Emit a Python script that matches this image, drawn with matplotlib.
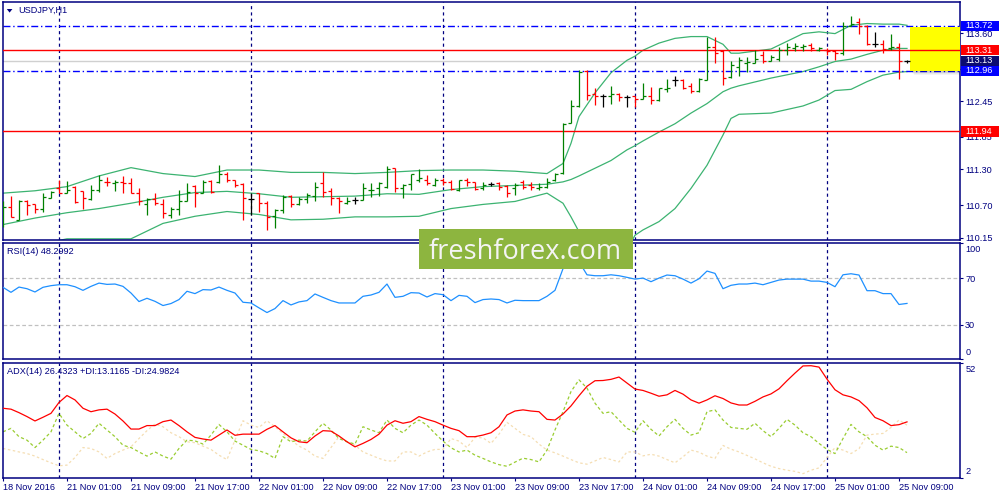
import matplotlib
matplotlib.use("Agg")
import matplotlib.pyplot as plt
from matplotlib.patches import Rectangle, Polygon
from matplotlib.transforms import blended_transform_factory as blend

plt.rcParams['font.family'] = ['Liberation Sans', 'DejaVu Sans']

# ---------------- data (USDJPY H1, 18 Nov 17:00 .. 25 Nov 10:00) ----------------
opens = [110.50, 110.67, 110.45, 110.77, 110.72, 110.63, 110.81, 110.98, 110.91, 111.01,
         110.94, 110.80, 110.96, 111.09, 111.07, 111.09, 111.07, 110.91, 110.72, 110.80,
         110.72, 110.53, 110.63, 110.76, 111.02, 110.91, 111.10, 111.08, 111.23, 111.12,
         111.05, 110.80, 110.90, 110.74, 110.51, 110.62, 110.85, 110.72, 110.80, 110.85,
         111.07, 110.94, 110.81, 110.73, 110.78, 110.79, 110.95, 110.98, 111.00, 111.32,
         110.98, 111.05, 111.12, 111.13, 111.04, 111.12, 111.09, 110.96, 111.12, 111.08,
         110.98, 111.05, 111.07, 111.02, 110.98, 111.08, 111.04, 110.98, 111.00, 111.12,
         111.24, 112.08, 112.37, 112.96, 112.57, 112.53, 112.53, 112.58, 112.52, 112.53,
         112.49, 112.53, 112.47, 112.66, 112.80, 112.81, 112.71, 112.63, 112.81, 113.37,
         113.29, 112.85, 113.03, 113.09, 113.10, 113.23, 113.13, 113.16, 113.31, 113.34,
         113.36, 113.40, 113.32, 113.32, 113.30, 113.27, 113.72, 113.79, 113.72, 113.41,
         113.41, 113.34, 113.37, 113.13]
highs = [110.76, 110.85, 110.78, 110.78, 110.72, 110.91, 110.94, 111.12, 111.11, 111.02,
         110.94, 111.04, 111.20, 111.17, 111.12, 111.19, 111.16, 110.98, 110.81, 110.90,
         110.80, 110.67, 110.95, 111.07, 111.04, 111.12, 111.12, 111.37, 111.26, 111.12,
         111.07, 110.90, 110.90, 110.76, 110.64, 110.87, 110.87, 110.84, 110.91, 111.09,
         111.25, 110.98, 110.84, 110.84, 110.83, 111.07, 111.07, 111.08, 111.35, 111.32,
         111.05, 111.23, 111.30, 111.21, 111.15, 111.15, 111.12, 111.13, 111.15, 111.09,
         111.09, 111.09, 111.08, 111.04, 111.07, 111.12, 111.08, 111.07, 111.15, 111.24,
         112.09, 112.47, 112.97, 112.97, 112.67, 112.58, 112.71, 112.59, 112.55, 112.54,
         112.75, 112.69, 112.68, 112.82, 112.87, 112.82, 112.76, 112.84, 113.54, 113.53,
         113.31, 113.12, 113.19, 113.19, 113.31, 113.29, 113.23, 113.37, 113.43, 113.43,
         113.41, 113.43, 113.37, 113.34, 113.32, 113.79, 113.89, 113.85, 113.73, 113.62,
         113.49, 113.59, 113.43, 113.14]
lows = [110.33, 110.50, 110.44, 110.53, 110.56, 110.59, 110.81, 110.90, 110.90, 110.74,
        110.63, 110.78, 110.92, 111.02, 110.94, 110.90, 110.90, 110.70, 110.53, 110.70,
        110.48, 110.48, 110.53, 110.76, 110.67, 110.90, 110.90, 111.07, 111.09, 111.01,
        110.45, 110.53, 110.59, 110.28, 110.32, 110.56, 110.67, 110.70, 110.73, 110.76,
        110.84, 110.70, 110.56, 110.72, 110.72, 110.78, 110.84, 110.85, 110.98, 110.92,
        110.81, 110.95, 111.09, 111.04, 111.02, 111.04, 110.96, 110.94, 111.02, 110.95,
        110.95, 111.02, 110.96, 110.84, 110.87, 110.97, 110.96, 110.96, 110.98, 111.11,
        111.23, 112.08, 112.36, 112.47, 112.39, 112.35, 112.41, 112.46, 112.36, 112.36,
        112.48, 112.41, 112.46, 112.61, 112.71, 112.65, 112.59, 112.61, 112.81, 113.09,
        112.72, 112.84, 112.87, 112.95, 113.09, 113.09, 113.12, 113.13, 113.23, 113.30,
        113.30, 113.29, 113.29, 113.23, 113.14, 113.23, 113.71, 113.59, 113.40, 113.37,
        113.26, 113.31, 112.82, 113.09]
closes = [110.67, 110.50, 110.77, 110.70, 110.63, 110.83, 110.92, 110.91, 110.95, 110.75,
          110.81, 110.95, 111.12, 111.08, 111.09, 111.07, 110.91, 110.76, 110.80, 110.73,
          110.56, 110.63, 110.76, 110.92, 110.90, 111.08, 110.92, 111.23, 111.12, 111.04,
          110.81, 110.80, 110.73, 110.50, 110.62, 110.84, 110.72, 110.80, 110.87, 111.01,
          110.92, 110.81, 110.76, 110.77, 110.78, 110.98, 110.96, 111.07, 111.30, 110.98,
          111.04, 111.22, 111.15, 111.07, 111.12, 111.09, 110.97, 111.12, 111.08, 110.97,
          111.04, 111.05, 111.01, 110.91, 111.04, 111.00, 111.00, 111.01, 111.09, 111.22,
          112.07, 112.37, 112.95, 112.55, 112.53, 112.53, 112.57, 112.52, 112.52, 112.48,
          112.53, 112.47, 112.67, 112.68, 112.80, 112.68, 112.63, 112.82, 113.37, 113.27,
          112.84, 113.06, 113.14, 113.11, 113.17, 113.13, 113.20, 113.32, 113.37, 113.38,
          113.38, 113.34, 113.34, 113.30, 113.26, 113.71, 113.76, 113.72, 113.41, 113.41,
          113.33, 113.37, 113.13, 113.13]

# Bollinger bands (20) read at knot bars
band_idx = [0, 4, 8, 12, 16, 20, 24, 28, 32, 36, 40,
            44, 48, 52, 56, 60, 64, 68,
            70, 71, 72, 74, 76, 78, 79, 80,
            82, 84, 86, 88, 90, 91, 92,
            96, 100, 102, 104, 106, 108, 110, 112, 113]
bb_upper = [110.90, 110.94, 111.01, 111.19, 111.33, 111.23, 111.18, 111.29, 111.29, 111.25, 111.25,
            111.23, 111.25, 111.28, 111.29, 111.29, 111.27, 111.23,
            111.40, 111.74, 112.19, 112.59, 112.93, 113.14, 113.21, 113.31,
            113.43, 113.51, 113.54, 113.54, 113.41, 113.26, 113.26,
            113.33, 113.59, 113.62, 113.59, 113.73, 113.76, 113.75, 113.75, 113.73]
bb_middle = [110.37, 110.48, 110.57, 110.64, 110.73, 110.83, 110.91, 110.93, 110.89, 110.83, 110.84,
             110.85, 110.89, 110.88, 110.96, 111.01, 111.03, 111.05,
             111.09, 111.13, 111.19, 111.32, 111.45, 111.63, 111.70, 111.78,
             111.93, 112.07, 112.25, 112.41, 112.61, 112.67, 112.71,
             112.84, 112.95, 113.03, 113.12, 113.16, 113.24, 113.31, 113.34, 113.34]
bb_lower = [109.90, 110.02, 110.13, 110.13, 110.13, 110.39, 110.51, 110.59, 110.54, 110.45, 110.46,
            110.50, 110.50, 110.51, 110.64, 110.71, 110.76, 110.90,
            110.73, 110.50, 110.25, 109.90, 109.75, 109.95, 110.19, 110.28,
            110.42, 110.64, 110.98, 111.37, 111.88, 112.16, 112.23,
            112.25, 112.37, 112.47, 112.63, 112.65, 112.78, 112.89, 112.94, 112.95]

rsi = [62.1, 57.8, 62.3, 60.9, 58.1, 62.1, 63.5, 64.3, 64.3, 62.6,
       59.5, 62.9, 65.7, 64.6, 64.9, 62.9, 57.2, 49.9, 52.7, 50.1,
       46.5, 48.2, 51.6, 58.7, 56.7, 60.1, 59.8, 62.3, 59.5, 57.2,
       49.3, 48.7, 44.5, 40.5, 43.9, 50.7, 47.0, 49.6, 50.7, 56.4,
       53.5, 50.7, 48.7, 48.7, 48.7, 54.4, 55.5, 57.8, 64.9, 53.5,
       54.4, 57.5, 57.2, 53.8, 56.7, 55.8, 50.7, 55.2, 54.4, 49.0,
       51.6, 52.1, 51.6, 48.7, 51.0, 50.7, 50.7, 50.7, 54.4, 59.5,
       78.0, 86.0, 84.0, 72.8, 72.0, 72.0, 72.8, 72.0, 70.6, 69.1,
       70.0, 66.9, 70.0, 72.6, 72.0, 69.1, 65.7, 69.4, 76.0, 74.0,
       60.9, 63.8, 64.9, 64.9, 65.7, 64.3, 66.3, 68.3, 69.1, 69.1,
       69.1, 67.4, 67.4, 66.3, 62.6, 72.8, 73.7, 72.6, 59.2, 59.2,
       56.7, 56.7, 47.4, 48.3]

adx = [32.3, 31.9, 30.4, 28.7, 26.8, 28.4, 30.1, 34.8, 37.8, 35.9,
       32.3, 30.8, 31.6, 31.9, 29.8, 26.8, 23.3, 23.3, 24.8, 24.8,
       26.5, 27.2, 24.8, 22.1, 19.7, 19.0, 18.5, 20.7, 22.9, 20.6,
       21.1, 21.1, 21.1, 23.2, 24.8, 22.1, 19.5, 17.8, 17.4, 20.3,
       22.6, 22.4, 20.3, 17.8, 15.6, 17.1, 18.8, 21.1, 25.0, 26.9,
       25.8, 26.5, 28.7, 27.5, 26.5, 25.0, 23.6, 22.6, 20.0, 20.0,
       20.7, 21.7, 24.3, 29.4, 31.1, 31.6, 31.1, 30.8, 27.5, 27.2,
       29.8, 33.3, 37.7, 41.8, 44.2, 44.3, 44.8, 45.8, 43.2, 40.6,
       40.0, 38.8, 37.5, 38.1, 40.0, 38.4, 35.9, 34.5, 35.9, 37.7,
       36.5, 34.6, 33.7, 33.7, 35.3, 37.2, 38.5, 40.7, 44.2, 47.5,
       50.6, 50.7, 50.1, 44.9, 40.3, 38.1, 37.2, 35.6, 32.5, 28.3,
       26.9, 24.8, 25.2, 26.4]
plus_di = [22.1, 23.6, 20.0, 18.5, 15.3, 18.5, 22.1, 30.1, 25.0, 22.1,
           19.2, 21.4, 25.8, 22.9, 20.0, 16.3, 15.3, 13.4, 11.6, 13.4,
           11.6, 10.3, 14.9, 18.5, 18.2, 16.8, 20.7, 25.3, 22.1, 18.1,
           16.3, 14.5, 13.9, 12.7, 10.6, 20.0, 17.8, 18.5, 18.1, 22.1,
           25.8, 22.9, 19.2, 17.8, 16.8, 24.3, 22.9, 21.7, 27.2, 23.6,
           21.7, 25.0, 27.2, 25.0, 21.4, 18.1, 15.2, 13.4, 14.2, 12.0,
           10.6, 9.1, 7.9, 7.2, 9.0, 10.7, 10.1, 9.1, 14.2, 22.9,
           30.8, 39.5, 44.6, 41.0, 34.5, 30.1, 30.8, 27.2, 23.6, 21.9,
           26.9, 23.2, 20.3, 24.3, 27.5, 23.6, 20.7, 21.7, 30.8, 31.6,
           27.2, 24.0, 23.6, 23.2, 25.8, 22.6, 20.0, 23.6, 27.5, 25.0,
           21.7, 20.0, 17.1, 14.5, 12.7, 19.2, 25.3, 22.1, 20.0, 16.3,
           14.2, 15.9, 15.3, 13.1]
minus_di = [14.9, 14.2, 13.4, 12.7, 11.6, 10.1, 8.7, 7.4, 7.7, 11.0,
            15.3, 14.9, 13.4, 10.6, 12.7, 14.2, 15.6, 19.2, 22.6, 25.5,
            24.3, 21.7, 20.0, 17.8, 17.4, 15.9, 14.5, 12.0, 10.1, 18.5,
            26.9, 25.0, 24.0, 26.9, 24.3, 21.4, 18.5, 15.9, 14.2, 11.6,
            10.6, 15.3, 20.0, 17.8, 16.3, 13.4, 12.0, 10.6, 9.5, 9.5,
            13.4, 13.4, 11.6, 13.4, 14.5, 14.5, 19.2, 18.1, 15.3, 19.7,
            19.5, 17.1, 21.1, 26.2, 23.6, 21.0, 20.0, 16.8, 14.2, 13.0,
            11.6, 10.1, 8.7, 8.1, 9.5, 11.0, 10.1, 9.1, 13.4, 13.4,
            11.7, 12.4, 11.6, 10.1, 8.7, 11.3, 14.2, 13.3, 11.6, 10.6,
            16.2, 14.6, 13.4, 11.9, 10.4, 8.7, 7.2, 6.2, 5.5, 5.0,
            4.0, 5.5, 6.5, 11.0, 15.3, 14.2, 12.7, 14.8, 20.7, 21.1,
            21.4, 24.0, 27.2, 25.0]

date_idx = [0, 8, 16, 24, 32, 40, 48, 56, 64, 72, 80, 88, 96, 104, 112]
date_labels = ["18 Nov 2016", "21 Nov 01:00", "21 Nov 09:00", "21 Nov 17:00",
               "22 Nov 01:00", "22 Nov 09:00", "22 Nov 17:00", "23 Nov 01:00",
               "23 Nov 09:00", "23 Nov 17:00", "24 Nov 01:00", "24 Nov 09:00",
               "24 Nov 17:00", "25 Nov 01:00", "25 Nov 09:00"]
day_sep_idx = [7, 31, 55, 79, 103]
price_ticks = [110.15, 110.70, 111.30, 111.85, 112.45, 113.00, 113.60]

blue_levels = [113.72, 112.96]
red_levels = [113.31, 111.94]
bid_price = 113.13
zone_start_idx = 113.4
zone_top, zone_bottom = 113.70, 112.96
box_prices = [113.72, 113.31, 113.13, 112.96, 111.94]
box_colors = ['#0000ff', '#ff0000', '#0b0b70', '#0000ff', '#ff0000']

symbol_label = "USDJPY,H1"
rsi_label = "RSI(14) 48.2992"
adx_label = "ADX(14) 26.4323 +DI:13.1165 -DI:24.9824"

# ---------------- drawing ----------------
NAVY = '#000080'
W, H = 1000, 500
FS = 6.6
fig = plt.figure(figsize=(10, 5), dpi=100)
fig.patch.set_facecolor('white')


def rect(x0, y0, x1, y1):
    return [x0 / W, 1 - y1 / H, (x1 - x0) / W, (y1 - y0) / H]


ax = fig.add_axes(rect(2.5, 2, 960, 240))
ax_rsi = fig.add_axes(rect(2.5, 243, 960, 359.3))
ax_adx = fig.add_axes(rect(2.5, 362.7, 960, 478.3))

n = len(closes)
idx = list(range(n))
XLIM = (-0.06, 119.625)

for a in (ax, ax_rsi, ax_adx):
    a.set_xlim(*XLIM)
    a.set_facecolor('white')
    for s in a.spines.values():
        s.set_color(NAVY)
        s.set_linewidth(1.1)
    a.yaxis.tick_right()
    a.tick_params(axis='both', colors=NAVY, labelsize=FS, length=2.2, width=0.8,
                  pad=1.5, direction='out')
    for d in day_sep_idx:
        a.axvline(d, color=NAVY, lw=0.9, ls=(0, (2.5, 2.5)), zorder=1)
    a.set_xticks([])

# main price panel
YMIN, YMAX = 110.110, 114.123
ax.set_ylim(YMIN, YMAX)
ax.set_yticks(price_ticks, [f'{p:.2f}' for p in price_ticks])

ax.axhline(bid_price, color='#d0d0d0', lw=1.0, zorder=1.5)
for lv in blue_levels:
    ax.axhline(lv, color='#0000ff', lw=1.0, ls=(0, (5, 2, 1, 2)), zorder=2.5)

ax.plot(band_idx, bb_upper, color='#3cb371', lw=0.9, zorder=2)
ax.plot(band_idx, bb_middle, color='#3cb371', lw=0.9, zorder=2)
ax.plot(band_idx, bb_lower, color='#3cb371', lw=0.9, zorder=2)

zw = XLIM[1] - zone_start_idx
for k in range(1, 6):
    ax.add_patch(Rectangle((zone_start_idx + 0.1 * k, zone_bottom - 0.014 * k), zw,
                           zone_top - zone_bottom, fc='black', alpha=0.045, ec='none', zorder=2.8))
ax.add_patch(Rectangle((zone_start_idx, zone_bottom), zw, zone_top - zone_bottom,
                       fc='#ffff00', ec='none', zorder=3))
for lv in red_levels:
    ax.axhline(lv, color='#ff0000', lw=1.0, zorder=3.5)

cols = ['#008000' if c > o else ('#ff0000' if c < o else 'black')
        for o, c in zip(opens, closes)]
ax.vlines(idx, lows, highs, colors=cols, lw=0.9, zorder=4)
ax.hlines(opens, [i - 0.36 for i in idx], idx, colors=cols, lw=0.9, zorder=4)
ax.hlines(closes, idx, [i + 0.36 for i in idx], colors=cols, lw=0.9, zorder=4)

# price label boxes on the right axis
tr = blend(fig.transFigure, ax.transData)
hbox = 10.5 * (YMAX - YMIN) / 238.0
for p, c in zip(box_prices, box_colors):
    fig.add_artist(Rectangle((961.3 / W, p - hbox / 2), 37.5 / W, hbox, transform=tr,
                             fc=c, ec='none', zorder=5))
    fig.text(965.5 / W, p, f'{p:.2f}', transform=tr, color='white', fontsize=FS,
             va='center', ha='left', zorder=6)

# RSI panel
ax_rsi.set_ylim(0.5, 100)
for lv in (70, 30):
    ax_rsi.axhline(lv, color='#c0c0c0', lw=0.9, ls=(0, (3, 2)), zorder=1)
ax_rsi.plot(idx, rsi, color='#1e90ff', lw=0.9, zorder=3)
ax_rsi.set_yticks([0.5, 30, 70, 100], ['', '30', '70', ''])
ax_rsi.annotate('100', (1, 1), xycoords='axes fraction', xytext=(3.8, -1.5),
                textcoords='offset points', va='top', ha='left', color=NAVY,
                fontsize=FS, annotation_clip=False)
ax_rsi.annotate('0', (1, 0), xycoords='axes fraction', xytext=(3.8, 1.5),
                textcoords='offset points', va='bottom', ha='left', color=NAVY,
                fontsize=FS, annotation_clip=False)

# ADX panel
ax_adx.set_ylim(2, 52)
ax_adx.plot(idx, minus_di, color='#f5deb3', lw=0.9, ls=(0, (2, 2)), zorder=2)
ax_adx.plot(idx, plus_di, color='#9acd32', lw=0.9, ls=(0, (2.5, 2)), zorder=2.5)
ax_adx.plot(idx, adx, color='#ff0000', lw=0.9, zorder=3)
ax_adx.set_yticks([2, 52], ['', ''])
ax_adx.annotate('52', (1, 1), xycoords='axes fraction', xytext=(3.8, -1.5),
                textcoords='offset points', va='top', ha='left', color=NAVY,
                fontsize=FS, annotation_clip=False)
ax_adx.annotate('2', (1, 0), xycoords='axes fraction', xytext=(3.8, 1.5),
                textcoords='offset points', va='bottom', ha='left', color=NAVY,
                fontsize=FS, annotation_clip=False)
ax_adx.set_xticks(date_idx, date_labels, ha='left')

# panel captions
fig.add_artist(Polygon([(6.8 / W, 1 - 9.0 / H), (12.4 / W, 1 - 9.0 / H), (9.6 / W, 1 - 12.6 / H)],
                       closed=True, transform=fig.transFigure, fc=NAVY, ec='none'))
fig.text(18.3 / W, 1 - 10.7 / H, symbol_label, color=NAVY, fontsize=FS, va='center')
fig.text(7.3 / W, 1 - 251.7 / H, rsi_label, color=NAVY, fontsize=FS, va='center')
fig.text(7.3 / W, 1 - 371.7 / H, adx_label, color=NAVY, fontsize=FS, va='center')

# watermark
fig.add_artist(Rectangle((419 / W, 1 - 269 / H), 214 / W, 40 / H, transform=fig.transFigure,
                         fc='#8db53f', ec='none', zorder=10))
fig.text(525.5 / W, 1 - 259.3 / H, 'freshforex.com', ha='center', va='baseline',
         fontsize=19.5, color='#f4f4f4', family='Open Sans', zorder=11)

fig.savefig('out.png', dpi=100)
